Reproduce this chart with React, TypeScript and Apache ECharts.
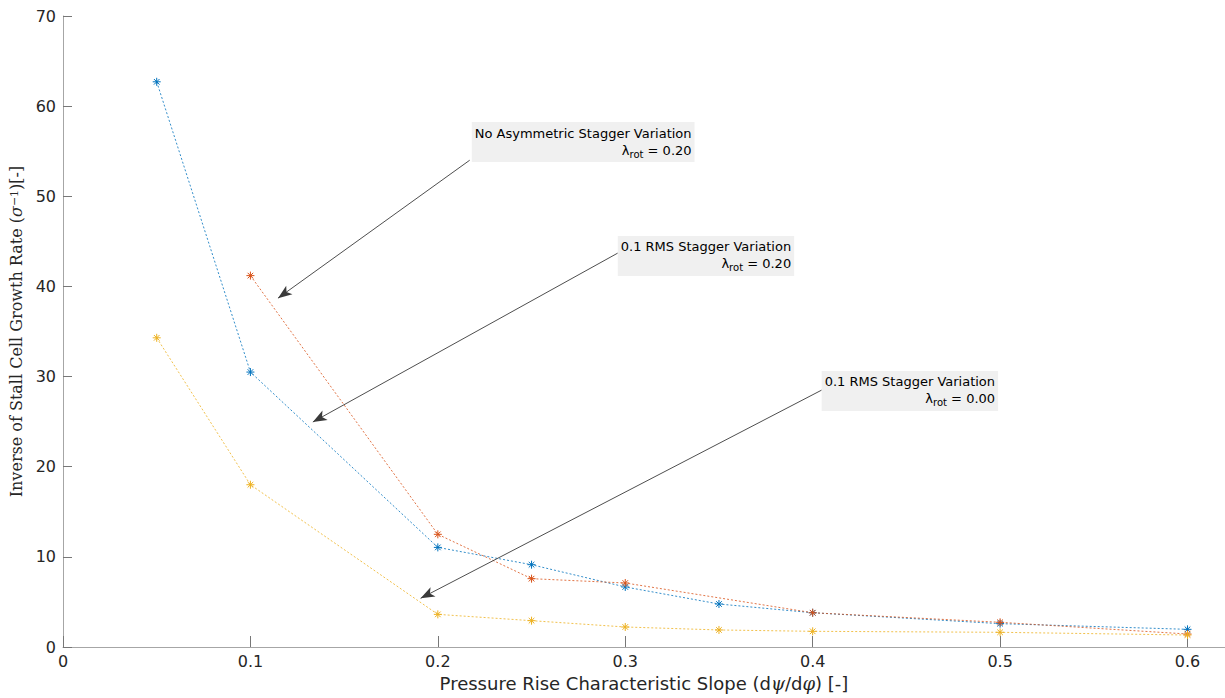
import React, { useEffect, useRef } from "react";
import * as echarts from "echarts";

// ---- data ----
const blueX = [0.05, 0.1, 0.2, 0.25, 0.3, 0.35, 0.4, 0.5, 0.6];
const blueY = [62.7, 30.5, 11.05, 9.13, 6.66, 4.77, 3.8, 2.59, 1.96];
const orangeX = [0.1, 0.2, 0.25, 0.3, 0.4, 0.5, 0.6];
const orangeY = [41.2, 12.5, 7.58, 7.1, 3.8, 2.74, 1.44];
const yellowX = [0.05, 0.1, 0.2, 0.25, 0.3, 0.35, 0.4, 0.5, 0.6];
const yellowY = [34.3, 18.0, 3.62, 2.92, 2.22, 1.89, 1.74, 1.63, 1.33];

const xTicks = [0, 0.1, 0.2, 0.3, 0.4, 0.5, 0.6];
const yTicks = [0, 10, 20, 30, 40, 50, 60, 70];

// annotations (data coordinates)
const annTitles = [
  "No Asymmetric Stagger Variation",
  "0.1 RMS Stagger Variation",
  "0.1 RMS Stagger Variation",
];
const annLambda = ["0.20", "0.20", "0.00"];
const annTail = [
  [0.217, 54.0],
  [0.296, 43.7],
  [0.4048, 28.5],
];
const annHead = [
  [0.1147, 38.7],
  [0.1333, 24.96],
  [0.1908, 5.4],
];
const annBox = [
  [0.2181, 58.24],
  [0.296, 45.6],
  [0.4048, 30.62],
];

const COLORS = ["#0072BD", "#D95319", "#EDB120"];
const ASTERISK =
  "path://M10 0 L10 20 M0 10 L20 10 M3 3 L17 17 M3 17 L17 3";

function pairs(xs: number[], ys: number[]) {
  return xs.map((x, i) => [x, ys[i]]);
}

export default function App() {
  const ref = useRef<HTMLDivElement>(null);
  useEffect(() => {
    if (!ref.current) return;
    const chart = echarts.init(ref.current, null, { renderer: "svg" });
    const mkSeries = (name: string, data: number[][], c: string, extra: any = {}) => ({
      name,
      type: "line",
      data,
      symbol: ASTERISK,
      symbolSize: 8,
      showSymbol: true,
      itemStyle: { color: "none", borderColor: c, borderWidth: 1 },
      lineStyle: { color: c, width: 1, type: [2, 2], opacity: 0.8 },
      ...extra,
    });
    const axisColor = "#a6a6a6";
    chart.setOption({
      animation: false,
      grid: { left: 63, top: 16, right: 0, bottom: 51, containLabel: false },
      xAxis: {
        type: "value",
        min: 0,
        max: 0.62,
        interval: 0.1,
        name: "Pressure Rise Characteristic Slope (d{m|ψ}/d{m|φ}) [-]",
        nameLocation: "middle",
        nameGap: 27,
        nameTextStyle: {
          fontFamily: "DejaVu Sans",
          fontSize: 18,
          color: "#262626",
          rich: {
            m: { fontFamily: "DejaVu Serif", fontStyle: "italic", fontSize: 18, color: "#262626" },
          },
        },
        axisLine: { show: true, lineStyle: { color: axisColor, width: 1 } },
        axisTick: {
          show: true,
          inside: true,
          length: 11,
          customValues: xTicks,
          lineStyle: { color: "#777", width: 1 },
        },
        axisLabel: {
          customValues: xTicks,
          fontFamily: "DejaVu Sans",
          fontSize: 16,
          color: "#262626",
          margin: 6,
          formatter: (v: number) => String(Math.round(v * 10) / 10),
        },
        splitLine: { show: false },
      },
      yAxis: {
        type: "value",
        min: 0,
        max: 70,
        interval: 10,
        name: "Inverse of Stall Cell Growth Rate ({i|σ}{sup|−1})[-]",
        nameLocation: "middle",
        nameGap: 34,
        nameTextStyle: {
          fontFamily: "DejaVu Serif",
          fontSize: 16,
          color: "#262626",
          rich: {
            i: { fontFamily: "DejaVu Serif", fontSize: 16, fontStyle: "italic", color: "#262626" },
            sup: { fontFamily: "DejaVu Serif", fontSize: 11, color: "#262626", verticalAlign: "top", lineHeight: 16 },
          },
        },
        axisLine: { show: true, lineStyle: { color: axisColor, width: 1 } },
        axisTick: {
          show: true,
          inside: true,
          length: 9,
          customValues: yTicks,
          lineStyle: { color: "#777", width: 1 },
        },
        axisLabel: {
          customValues: yTicks,
          fontFamily: "DejaVu Sans",
          fontSize: 16,
          color: "#262626",
          margin: 7,
        },
        splitLine: { show: false },
      },
      series: [
        mkSeries("blue", pairs(blueX, blueY), COLORS[0], {
          markLine: {
            silent: true,
            symbol: ["none", "arrow"],
            symbolSize: [8, 14],
            label: { show: false },
            lineStyle: { color: "#3a3a3a", width: 0.9, type: "solid" },
            emphasis: { disabled: true },
            data: annTail.map((t, i) => [
              { coord: t },
              { coord: annHead[i] },
            ]),
          },
        }),
        mkSeries("orange", pairs(orangeX, orangeY), COLORS[1]),
        mkSeries("yellow", pairs(yellowX, yellowY), COLORS[2]),
      ],
    });

    const graphics = annBox.map((b, i) => {
      const p = chart.convertToPixel({ gridIndex: 0 }, b) as number[];
      return {
        type: "text",
        x: p[0],
        y: p[1],
        z: 100,
        style: {
          text: `{t|${annTitles[i]}}\n{l|λ}{s|rot}{v| = ${annLambda[i]}}`,
          backgroundColor: "#f0f0f0",
          padding: [3, 3, 3, 3],
          align: "left",
          verticalAlign: "top",
          fill: "#000",
          rich: {
            t: { fontFamily: "DejaVu Sans", fontSize: 13, fill: "#000", lineHeight: 16, align: "right" },
            l: { fontFamily: "DejaVu Sans", fontSize: 13, fill: "#000", lineHeight: 18, align: "right" },
            s: { fontFamily: "DejaVu Sans", fontSize: 10, fill: "#000", lineHeight: 18, align: "right", verticalAlign: "bottom" },
            v: { fontFamily: "DejaVu Sans", fontSize: 13, fill: "#000", lineHeight: 18, align: "right" },
          },
        },
      };
    });
    chart.setOption({ graphic: graphics });

    return () => chart.dispose();
  }, []);
  return (
    <div
      ref={ref}
      style={{ position: "fixed", left: 0, top: 0, width: 1225, height: 698, background: "#fff" }}
    />
  );
}
